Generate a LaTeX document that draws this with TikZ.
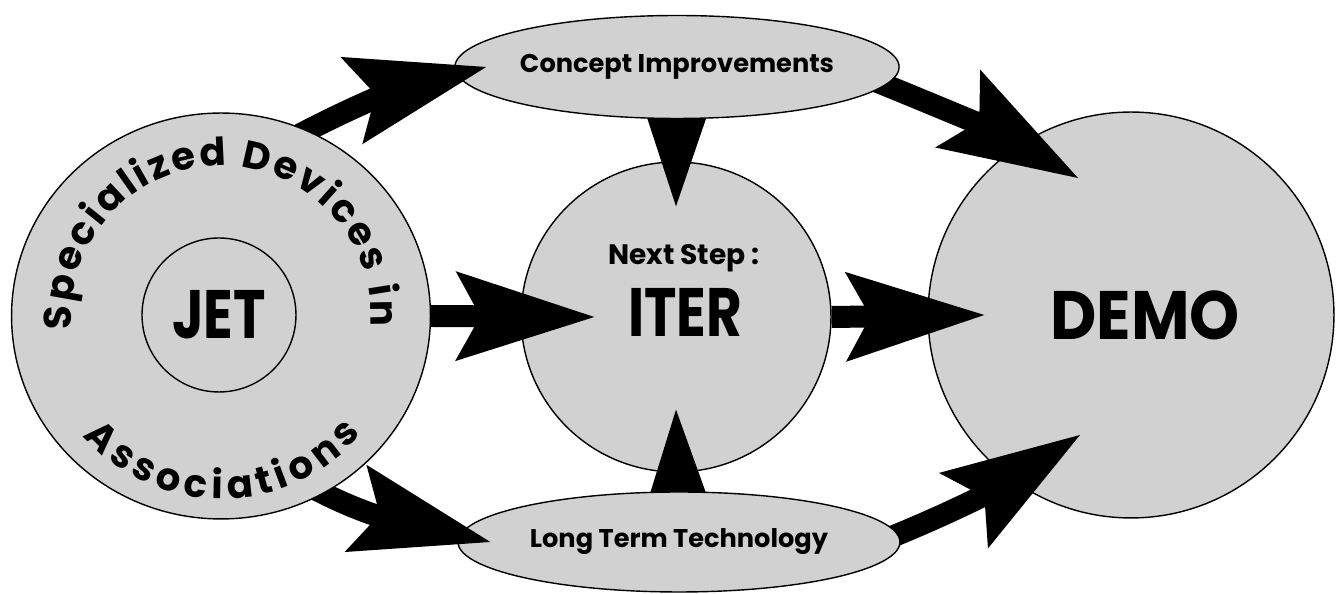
\documentclass[tikz,border=0pt]{standalone}
\usepackage{fontspec}
\setmainfont{Poppins}
\newfontfamily\condfont[FakeStretch=0.8]{Poppins}
\newfontfamily\demofont[FakeStretch=0.93]{Poppins}
\usetikzlibrary{arrows.meta,shapes.geometric,decorations.text}
\pgfdeclarelayer{bottom}
\pgfdeclarelayer{lower}
\pgfdeclarelayer{upper}
\pgfdeclarelayer{top}
\pgfsetlayers{bottom,lower,main,upper,top}
\newcommand\ringfont{\fontsize{22}{26}\selectfont\bfseries}
\newcommand\ovalfont{\fontsize{14.6}{17}\selectfont\bfseries}
\newcommand\bigfont{\condfont\fontsize{39}{44}\selectfont\bfseries}

\begin{document}
\begin{tikzpicture}[x=0.02cm,y=0.02cm]
  \useasboundingbox (0,0) rectangle (1340,594);
  \tikzset{CircleStyle/.style = {shape        = circle,
                                 draw,
                                 fill         = black!18,
                                 line width   = 0.8pt,
                                 inner sep    = 0pt,
                                 font         = \bigfont}}

  \tikzset{OvalStyle/.style   = {shape        = ellipse,
                                 draw,
                                 fill         = black!18,
                                 line width   = 0.8pt,
                                 inner sep    = 0pt,
                                 minimum width = 8.84cm,
                                 font         = \ovalfont}}

  \tikzset{ArrowStyle/.style  = {line width = 0.44cm,
                                 -{Stealth[length=2.78cm, width=1.8cm, inset=0.5cm, line width=0pt]}}}

  \tikzset{ShortArrowStyle/.style = {line width = 0.3cm,
                                 -{Stealth[length=2.6cm, width=1.74cm, inset=0.14cm, line width=0pt]}}}

  \tikzset{RingTextStyle/.style = {decorate,
                                 decoration = {text along path, text align = {fit to path}}}}

  % targets at the back
  \begin{pgfonlayer}{bottom}
     \node[CircleStyle, minimum size = 6.2cm](ITER) at (676,277) {};
     \node[CircleStyle, minimum size = 8.12cm](DEMO) at (1131,279) {};
  \end{pgfonlayer}

  \node[OvalStyle, minimum height = 2.06cm](CI) at (677,527) {Concept Improvements};
  \node[OvalStyle, minimum height = 2.0cm](LTT) at (679,52) {Long Term Technology};
  \node(Next) at (684,336) {\fontsize{16}{18}\selectfont\bfseries Next Step :};
  \node[font = \bigfont](IterText) at (685,282) {ITER};
  \node[font = \demofont\fontsize{39}{44}\selectfont\bfseries](DemoText) at (1145,279) {DEMO};

  % the devices ring in front
  \begin{pgfonlayer}{top}
     \node[CircleStyle, shape = ellipse, minimum width = 8.38cm, minimum height = 8.12cm](SD) at (221,278) {};
     \node[CircleStyle, minimum size = 3.08cm](JET) at (219,279) {JET};
     \path[RingTextStyle, decoration = {text = {|\ringfont|Specialized Devices in}}]
        ([shift={(185:150)}]SD.center) arc[start angle=185, end angle=-4, radius=150];
     \path[RingTextStyle, decoration = {text = {|\ringfont|Associations}}]
        ([shift={(221:183)}]SD.center) arc[start angle=221, end angle=320, radius=183];
  \end{pgfonlayer}

  \begin{pgfonlayer}{lower}
     \draw[ShortArrowStyle](CI.center) -- ([yshift=-0.9cm]ITER.north);
     \draw[ShortArrowStyle](LTT.center) -- ([yshift=1.26cm]ITER.south);
     \draw[ArrowStyle](ITER.east) -- ([xshift=1.14cm]DEMO.west);
     \draw[ArrowStyle, shorten <=-0.3cm](CI.-5) to[out=-22, in=150] ([xshift=-1.06cm, yshift=2.74cm]DEMO.center);
     \draw[ArrowStyle, shorten <=-0.3cm](LTT.2) to[out=22, in=213] ([xshift=-1.02cm, yshift=-2.4cm]DEMO.center);
  \end{pgfonlayer}

  \begin{pgfonlayer}{upper}
     \draw[ArrowStyle](SD.east) -- ([xshift=1.48cm]ITER.west);
     \draw[ArrowStyle, shorten <=-0.3cm](SD.65) to[out=28, in=194] ([xshift=0.64cm]CI.west);
     \draw[ArrowStyle, shorten <=-0.3cm](SD.-60) to[out=-28, in=166] ([xshift=0.66cm]LTT.west);
  \end{pgfonlayer}
\end{tikzpicture}
\end{document}
